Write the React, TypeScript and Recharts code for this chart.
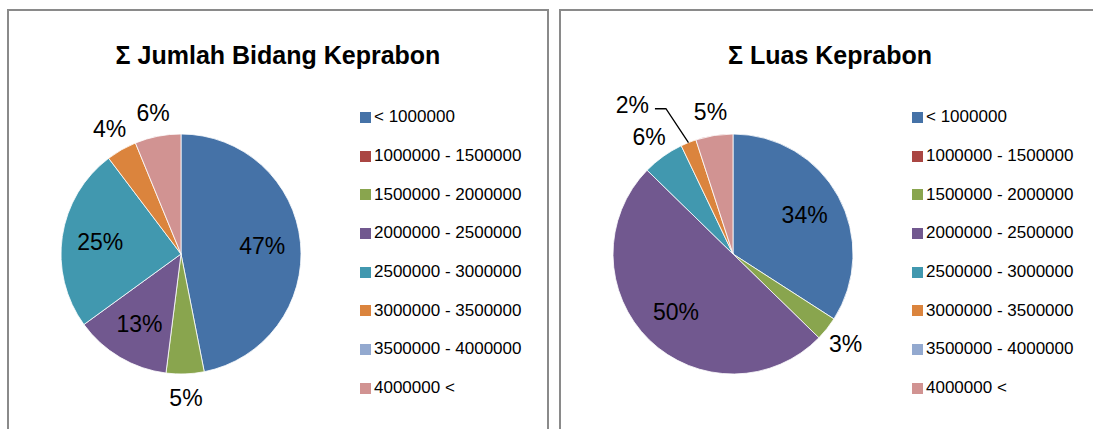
import React from 'react';
import { PieChart, Pie, Cell, Legend } from 'recharts';

const categories = [
  '< 1000000',
  '1000000 - 1500000',
  '1500000 - 2000000',
  '2000000 - 2500000',
  '2500000 - 3000000',
  '3000000 - 3500000',
  '3500000 - 4000000',
  '4000000 <',
];
const colors = ['#4572A7', '#AA4643', '#89A54E', '#71588F', '#4198AF', '#DB843D', '#93A9CF', '#D19392'];

const jumlahTitle = 'Σ Jumlah Bidang Keprabon';
const jumlahValues = [46.9, 0, 5.1, 13.0, 24.7, 4.1, 0, 6.2];

const luasTitle = 'Σ Luas Keprabon';
const luasValues = [34.1, 0, 3.2, 50.0, 5.6, 2.1, 0, 5.0];

const RAD = Math.PI / 180;
const FONT = "'Liberation Sans', Arial, sans-serif";

const renderLabel = (props: any) => {
  const { cx, cy, midAngle, outerRadius, percent, value } = props;
  if (!value) return null;
  const cos = Math.cos(-midAngle * RAD);
  const sin = Math.sin(-midAngle * RAD);
  const txt = `${Math.round(percent * 100)}%`;
  const style = { fontFamily: FONT, fontSize: 23, fill: '#000' };
  if (percent >= 0.1) {
    const r = outerRadius * 0.68;
    return (
      <text x={cx + r * cos} y={cy + r * sin} textAnchor="middle" dominantBaseline="central" style={style}>
        {txt}
      </text>
    );
  }
  if (percent >= 0.025) {
    const r = outerRadius + 24;
    return (
      <text x={cx + r * cos} y={cy + r * sin} textAnchor="middle" dominantBaseline="central" style={style}>
        {txt}
      </text>
    );
  }
  const ex = cx + outerRadius * cos;
  const ey = cy + outerRadius * sin;
  const lr = outerRadius + 40;
  const la = -(midAngle + 3) * RAD;
  const mx = cx + lr * Math.cos(la);
  const my = cy + lr * Math.sin(la);
  const dir = cos < 0 ? -1 : 1;
  const hx = mx + dir * 11;
  return (
    <g>
      <polyline points={`${ex},${ey} ${mx},${my} ${hx},${my}`} fill="none" stroke="#000" strokeWidth={1.3} />
      <text x={hx + dir * 6} y={my - 4} textAnchor={dir < 0 ? 'end' : 'start'} dominantBaseline="central" style={style}>
        {txt}
      </text>
    </g>
  );
};

const LegendContent = () => (
  <div style={{ fontFamily: FONT, fontSize: 17, color: '#000' }}>
    {categories.map((c, i) => (
      <div key={c} style={{ height: 38.7, display: 'flex', alignItems: 'center', whiteSpace: 'nowrap' }}>
        <span style={{ display: 'inline-block', width: 11, height: 11, background: colors[i], marginRight: 3 }} />
        <span>{c}</span>
      </div>
    ))}
  </div>
);

const W = 538;
const H = 430;

const Panel = ({ title, values, left }: { title: string; values: number[]; left: number }) => {
  const data = categories.map((c, i) => ({ name: c, value: values[i] }));
  return (
    <div
      style={{
        position: 'absolute',
        left,
        top: 9,
        width: W,
        height: H,
        border: '2px solid #8a8a8a',
        background: '#fff',
      }}
    >
      <svg style={{ position: 'absolute', left: 0, top: 0 }} width={W} height={80}>
        <text
          x={269}
          y={52.5}
          textAnchor="middle"
          style={{ fontFamily: FONT, fontWeight: 'bold', fontSize: 25, fill: '#000' }}
        >
          {title}
        </text>
      </svg>
      <div style={{ position: 'absolute', left: 0, top: 0 }}>
        <PieChart width={W} height={H} margin={{ top: 0, right: 0, bottom: 0, left: 0 }}>
          <Pie
            data={data}
            dataKey="value"
            nameKey="name"
            cx={172}
            cy={243}
            outerRadius={120}
            startAngle={90}
            endAngle={-270}
            stroke="#fff"
            strokeWidth={0.8}
            label={renderLabel}
            labelLine={false}
            isAnimationActive={false}
          >
            {data.map((d, i) => (
              <Cell key={d.name} fill={colors[i]} />
            ))}
          </Pie>
          <Legend
            layout="vertical"
            verticalAlign="middle"
            align="right"
            content={<LegendContent />}
            wrapperStyle={{ position: 'absolute', left: 351, top: 87, width: 185 }}
          />
        </PieChart>
      </div>
    </div>
  );
};

export default function App() {
  return (
    <div
      style={{
        position: 'fixed',
        left: 0,
        top: 0,
        width: 1093,
        height: 429,
        overflow: 'hidden',
        background: '#fff',
      }}
    >
      <Panel title={jumlahTitle} values={jumlahValues} left={7} />
      <Panel title={luasTitle} values={luasValues} left={559} />
    </div>
  );
}
